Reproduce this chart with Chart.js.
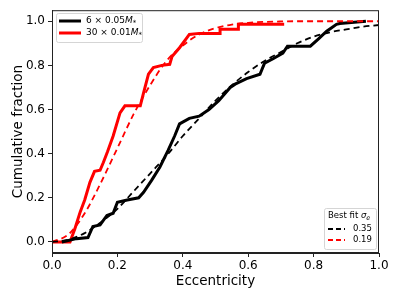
<!DOCTYPE html>
<html>
<head>
<meta charset="utf-8">
<script src="https://cdn.jsdelivr.net/npm/chart.js@4"></script>
<style>
  html, body { margin: 0; padding: 0; background: #fff; }
  #wrap { width: 399px; height: 299px; }
</style>
</head>
<body>
<div id="wrap"><canvas id="cdf" width="399" height="299"></canvas></div>
<script>
// values
var blackE = [0.03, 0.075, 0.11, 0.125, 0.147, 0.168, 0.187, 0.2, 0.23, 0.265, 0.28, 0.305, 0.33, 0.355,
  0.375, 0.39, 0.42, 0.45, 0.48, 0.51, 0.545, 0.56, 0.595, 0.636, 0.65, 0.676, 0.706, 0.72, 0.79, 0.815, 0.84, 0.87, 0.88, 0.96];
var blackF = [0.0, 0.015, 0.02, 0.07, 0.077, 0.12, 0.13, 0.18, 0.19, 0.2, 0.225, 0.28, 0.34, 0.415,
  0.48, 0.535, 0.56, 0.57, 0.6, 0.64, 0.7, 0.715, 0.74, 0.76, 0.81, 0.83, 0.856, 0.887, 0.887, 0.92, 0.955, 0.986, 0.99, 1.0];

var redE = [0.0, 0.055, 0.07, 0.086, 0.1, 0.116, 0.13, 0.147, 0.157, 0.17, 0.187, 0.208, 0.223, 0.27, 0.28,
  0.295, 0.31, 0.336, 0.36, 0.367, 0.39, 0.41, 0.42, 0.45, 0.514, 0.514, 0.57, 0.57, 0.71];
var redF = [0.0, 0.0, 0.06, 0.135, 0.19, 0.27, 0.32, 0.325, 0.36, 0.41, 0.48, 0.585, 0.617, 0.617, 0.675,
  0.76, 0.79, 0.8, 0.805, 0.84, 0.88, 0.92, 0.94, 0.945, 0.945, 0.964, 0.964, 0.986, 0.986];

var fitE = [0.0, 0.05, 0.1, 0.15, 0.2, 0.25, 0.3, 0.35, 0.4, 0.45, 0.5, 0.55, 0.6, 0.65, 0.7, 0.75, 0.8, 0.85, 0.9, 0.95, 1.0];
var fitBlack = [0.0, 0.01, 0.04, 0.09, 0.15, 0.23, 0.31, 0.39, 0.48, 0.56, 0.64, 0.71, 0.77, 0.82, 0.86, 0.9, 0.93, 0.95, 0.963, 0.975, 0.983];
var fitRed = [0.0, 0.034, 0.13, 0.27, 0.425, 0.58, 0.71, 0.82, 0.89, 0.94, 0.969, 0.985, 0.993, 0.997, 0.999, 1.0, 1.0, 1.0, 1.0, 1.0, 1.0];

var xTicks = [0.0, 0.2, 0.4, 0.6, 0.8, 1.0];
var yTicks = [0.0, 0.2, 0.4, 0.6, 0.8, 1.0];
var fitLabels = ['0.35', '0.19'];

function pts(xs, ys) {
  return xs.map(function (x, i) { return {x: x, y: ys[i]}; });
}

var font = 'DejaVu Sans';

// matplotlib-ish frame and the two legend boxes
var extras = {
  id: 'extras',
  afterDraw: function (chart) {
    var c = chart.ctx, a = chart.chartArea;
    c.save();
    c.strokeStyle = '#222';
    c.lineWidth = 1;
    c.strokeRect(a.left + 0.5, a.top + 0.5, a.right - a.left - 1, a.bottom - a.top - 1);

    function box(x, y, w, h) {
      c.fillStyle = 'rgba(255,255,255,0.8)';
      c.strokeStyle = '#d5d5d5';
      c.lineWidth = 1;
      c.beginPath();
      c.roundRect(x + 0.5, y + 0.5, w, h, 2);
      c.fill();
      c.stroke();
    }
    function mass(x, y, pre) {
      c.textBaseline = 'middle';
      c.font = '9px ' + font;
      c.fillText(pre, x, y);
      x += c.measureText(pre).width;
      c.font = 'italic 9px ' + font;
      c.fillText('M', x, y);
      x += c.measureText('M').width;
      c.font = '7px ' + font;
      c.fillText('*', x, y + 2);
    }

    box(56, 13, 86, 29);
    c.setLineDash([]);
    c.lineWidth = 3;
    c.strokeStyle = '#000';
    c.beginPath(); c.moveTo(59, 21); c.lineTo(81, 21); c.stroke();
    c.strokeStyle = '#ff0000';
    c.beginPath(); c.moveTo(59, 33); c.lineTo(81, 33); c.stroke();
    c.fillStyle = '#000';
    mass(86, 21, '6 \u00d7 0.05');
    mass(86, 33, '30 \u00d7 0.01');

    box(324, 208, 52, 41);
    c.fillStyle = '#000';
    c.textBaseline = 'middle';
    c.font = '8.5px ' + font;
    var t = 'Best fit ';
    c.fillText(t, 328, 216);
    var tx = 328 + c.measureText(t).width;
    c.font = 'italic 8.5px ' + font;
    c.fillText('\u03c3', tx, 216);
    tx += c.measureText('\u03c3').width;
    c.font = 'italic 6.5px ' + font;
    c.fillText('e', tx, 218);

    c.lineWidth = 2;
    c.setLineDash([5, 3]);
    c.strokeStyle = '#000';
    c.beginPath(); c.moveTo(328, 229); c.lineTo(345, 229); c.stroke();
    c.strokeStyle = '#ff0000';
    c.beginPath(); c.moveTo(328, 240); c.lineTo(345, 240); c.stroke();
    c.setLineDash([]);
    c.font = '8.5px ' + font;
    c.fillText(fitLabels[0], 353, 229);
    c.fillText(fitLabels[1], 353, 240);
    c.restore();
  }
};

new Chart('cdf', {
  type: 'line',
  data: {
    datasets: [
      {data: pts(fitE, fitBlack), borderColor: '#000', borderWidth: 1.8, borderDash: [6, 4], cubicInterpolationMode: 'monotone'},
      {data: pts(fitE, fitRed), borderColor: '#ff0000', borderWidth: 1.8, borderDash: [6, 4], cubicInterpolationMode: 'monotone'},
      {data: pts(blackE, blackF), borderColor: '#000', borderWidth: 3, borderJoinStyle: 'miter'},
      {data: pts(redE, redF), borderColor: '#ff0000', borderWidth: 3, borderJoinStyle: 'miter'}
    ]
  },
  options: {
    responsive: false,
    animation: false,
    layout: {padding: {left: 0, top: 9, right: 20, bottom: 0}},
    elements: {point: {radius: 0}, line: {fill: false}},
    plugins: {legend: {display: false}, tooltip: {enabled: false}},
    scales: {
      x: {
        type: 'linear', min: 0, max: 1,
        afterBuildTicks: function (s) { s.ticks = xTicks.map(function (v) { return {value: v}; }); },
        afterFit: function (s) { s.height = 46; },
        grid: {drawOnChartArea: false, drawTicks: true, tickLength: 4, color: '#222'},
        border: {color: '#222'},
        ticks: {color: '#000', padding: 2, font: {family: font, size: 12}, maxRotation: 0,
          callback: function (v) { return v.toFixed(1); }},
        title: {display: true, text: 'Eccentricity', color: '#000', padding: {top: 0, bottom: 9}, font: {family: font, size: 13.5}}
      },
      y: {
        type: 'linear', min: -0.05, max: 1.05,
        afterBuildTicks: function (s) { s.ticks = yTicks.map(function (v) { return {value: v}; }); },
        afterFit: function (s) { s.width = 52; },
        grid: {drawOnChartArea: false, drawTicks: true, tickLength: 4, color: '#222'},
        border: {color: '#222'},
        ticks: {color: '#000', padding: 3, font: {family: font, size: 12},
          callback: function (v) { return v.toFixed(1); }},
        title: {display: true, text: 'Cumulative fraction', color: '#000', padding: {top: 10, bottom: 0}, font: {family: font, size: 13.5}}
      }
    }
  },
  plugins: [extras]
});
</script>
</body>
</html>
